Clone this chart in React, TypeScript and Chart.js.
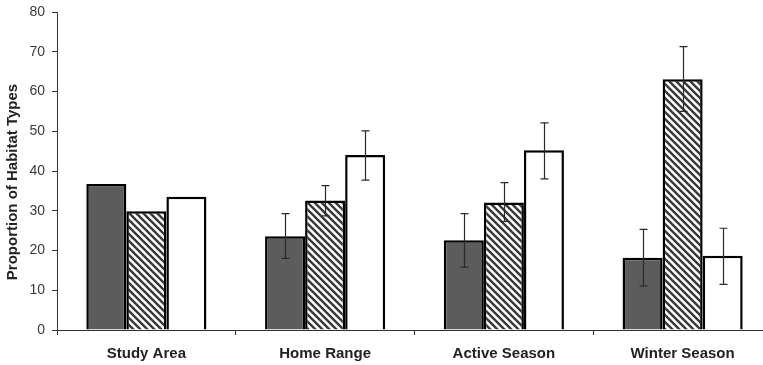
import React, { useEffect, useRef } from "react";
import { Chart, registerables } from "chart.js";

Chart.register(...registerables);

const categories = ["Study Area", "Home Range", "Active Season", "Winter Season"];
const seriesNames = ["Habitat Type 1", "Habitat Type 2", "Habitat Type 3"];
const darkValues = [36.7, 23.6, 22.6, 18.2];
const hatchedValues = [29.9, 32.6, 32.1, 63.1];
const whiteValues = [33.5, 44.0, 45.2, 18.7];
const darkErrLow = [null, 18.0, 15.8, 11.1];
const darkErrHigh = [null, 29.3, 29.3, 25.3];
const hatchedErrLow = [null, 28.7, 27.3, 55.0];
const hatchedErrHigh = [null, 36.3, 37.1, 71.3];
const whiteErrLow = [null, 37.7, 38.0, 11.5];
const whiteErrHigh = [null, 50.1, 52.1, 25.6];
const yTicks = [0, 10, 20, 30, 40, 50, 60, 70, 80];
const yTitle = "Proportion of Habitat Types";

function makeHatch(): CanvasPattern | string {
  const s = 7;
  const c = document.createElement("canvas");
  c.width = s;
  c.height = s;
  const g = c.getContext("2d");
  if (!g) return "#999";
  g.fillStyle = "#ffffff";
  g.fillRect(0, 0, s, s);
  g.strokeStyle = "#383838";
  g.lineWidth = 2.4;
  g.beginPath();
  g.moveTo(-2, -2);
  g.lineTo(s + 2, s + 2);
  g.moveTo(-2, s - 2);
  g.lineTo(2, s + 2);
  g.moveTo(s - 2, -2);
  g.lineTo(s + 2, 2);
  g.stroke();
  const p = g.createPattern(c, "repeat");
  return p || "#999";
}

const errorBars = {
  id: "errorBars",
  afterDatasetsDraw(chart: any) {
    const lows = [darkErrLow, hatchedErrLow, whiteErrLow];
    const highs = [darkErrHigh, hatchedErrHigh, whiteErrHigh];
    const ctx = chart.ctx;
    const y = chart.scales.y;
    ctx.save();
    ctx.strokeStyle = "#2a2a2a";
    ctx.lineWidth = 1.2;
    for (let i = 0; i < 3; i++) {
      const meta = chart.getDatasetMeta(i);
      meta.data.forEach((el: any, j: number) => {
        const lo = lows[i][j];
        const hi = highs[i][j];
        if (lo == null || hi == null) return;
        const x = Math.round(el.x) + 0.5;
        const y1 = y.getPixelForValue(lo);
        const y2 = y.getPixelForValue(hi);
        ctx.beginPath();
        ctx.moveTo(x, y1);
        ctx.lineTo(x, y2);
        ctx.moveTo(x - 4, y1);
        ctx.lineTo(x + 4, y1);
        ctx.moveTo(x - 4, y2);
        ctx.lineTo(x + 4, y2);
        ctx.stroke();
      });
    }
    ctx.restore();
  },
};

const yTitlePlugin = {
  id: "yTitlePlugin",
  afterDraw(chart: any) {
    const ctx = chart.ctx;
    const area = chart.chartArea;
    ctx.save();
    ctx.translate(13, (area.top + area.bottom) / 2 + 11);
    ctx.rotate(-Math.PI / 2);
    ctx.font = "bold 15px 'Liberation Sans', Arial, sans-serif";
    ctx.fillStyle = "#222222";
    ctx.textAlign = "center";
    ctx.textBaseline = "middle";
    ctx.fillText(yTitle, 0, 0);
    ctx.restore();
  },
};

export default function App() {
  const ref = useRef<HTMLCanvasElement>(null);
  useEffect(() => {
    if (!ref.current) return;
    const chart = new Chart(ref.current, {
      type: "bar",
      data: {
        labels: categories,
        datasets: [
          {
            label: seriesNames[0],
            data: darkValues,
            backgroundColor: "#5c5c5c",
            borderColor: "#000000",
            borderWidth: 2.5,
          },
          {
            label: seriesNames[1],
            data: hatchedValues,
            backgroundColor: makeHatch() as any,
            borderColor: "#000000",
            borderWidth: 2.5,
          },
          {
            label: seriesNames[2],
            data: whiteValues,
            backgroundColor: "#ffffff",
            borderColor: "#000000",
            borderWidth: 2.5,
          },
        ],
      },
      options: {
        responsive: false,
        animation: false,
        layout: { padding: { top: 12, right: 2, left: 0, bottom: 0 } },
        plugins: { legend: { display: false }, tooltip: { enabled: false } },
        datasets: { bar: { categoryPercentage: 0.672, barPercentage: 1.0 } } as any,
        scales: {
          x: {
            grid: {
              display: true,
              drawOnChartArea: false,
              drawTicks: true,
              tickLength: 5,
              color: "#333333",
              offset: true,
            },
            border: { display: true, color: "#333333", width: 1 },
            ticks: {
              color: "#222222",
              padding: 10,
              font: { family: "'Liberation Sans', Arial, sans-serif", size: 15, weight: "bold" },
            },
            afterFit: (scale: any) => {
              scale.height = 35;
              scale.paddingLeft = 0;
              scale.paddingRight = 0;
            },
          },
          y: {
            min: 0,
            max: 80,
            afterBuildTicks: (scale: any) => {
              scale.ticks = yTicks.map((v) => ({ value: v }));
            },
            grid: {
              display: true,
              drawOnChartArea: false,
              drawTicks: true,
              tickLength: 5,
              color: "#333333",
            },
            border: { display: true, color: "#333333", width: 1 },
            ticks: {
              color: "#3a3a3a",
              padding: 7,
              font: { family: "'Liberation Sans', Arial, sans-serif", size: 14 },
            },
            afterFit: (scale: any) => {
              scale.width = 57;
              scale.paddingTop = 0;
              scale.paddingBottom = 0;
            },
          },
        },
      },
      plugins: [errorBars, yTitlePlugin],
    });
    return () => chart.destroy();
  }, []);
  return (
    <div
      style={{
        position: "absolute",
        left: 0,
        top: 0,
        width: 763,
        height: 365,
        overflow: "hidden",
        background: "#ffffff",
      }}
    >
      <canvas ref={ref} width={774} height={365} style={{ display: "block" }} />
    </div>
  );
}
